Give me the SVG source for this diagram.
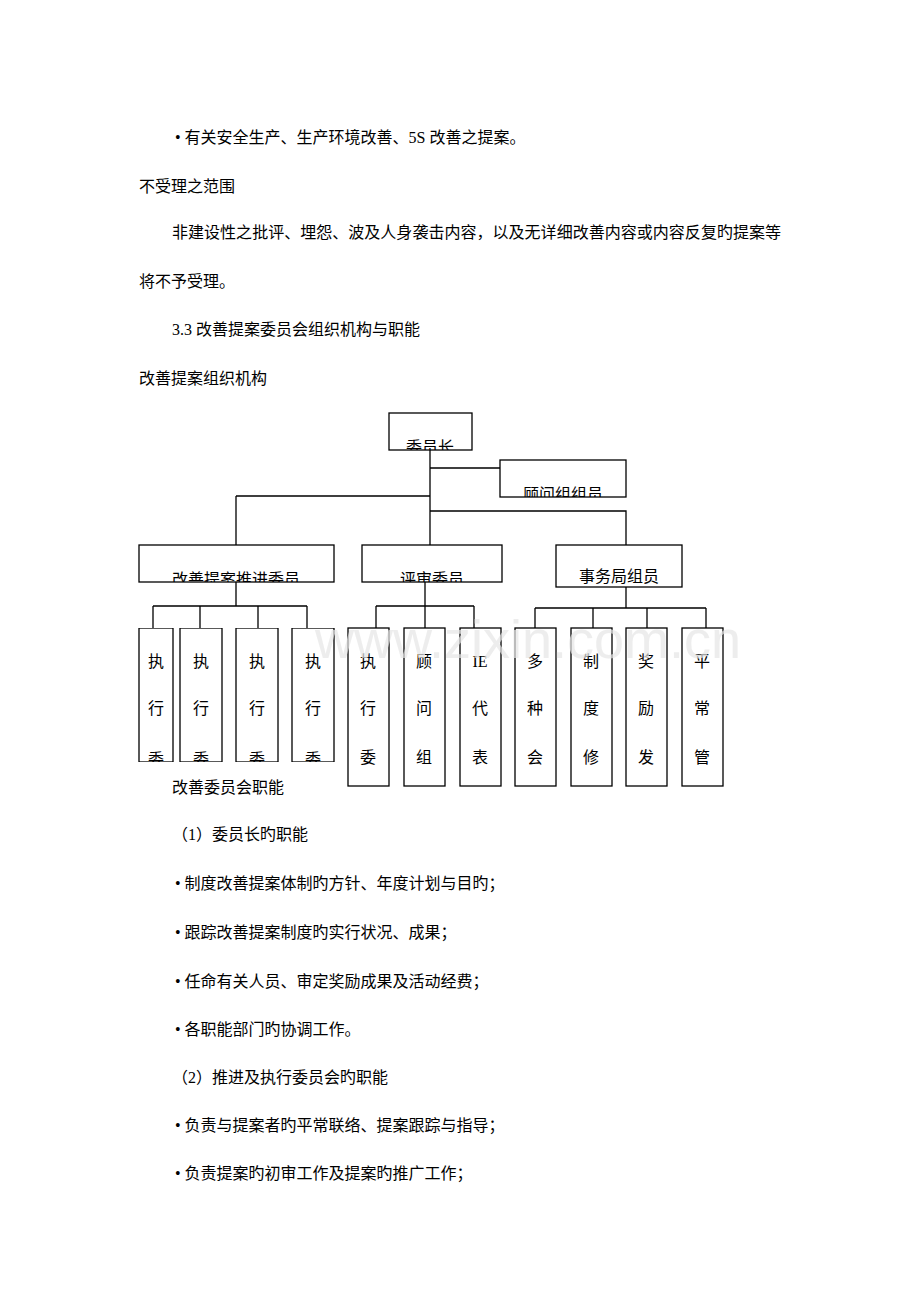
<svg xmlns="http://www.w3.org/2000/svg" width="920" height="1302" viewBox="0 0 920 1302">
<style>
.t{font-family:"Liberation Serif","Noto Sans CJK SC",serif;font-size:16px;fill:#000}
.n{fill:#fff;stroke:#000;stroke-width:1.3}
.c{fill:none;stroke:#000;stroke-width:1.3}
.v{font-family:"Liberation Serif","Noto Sans CJK SC",serif;font-size:16px;text-anchor:middle}
</style>
<defs>
<clipPath id="c1"><rect x="389" y="413" width="83" height="37"/></clipPath>
<clipPath id="c2"><rect x="500" y="460" width="126" height="37"/></clipPath>
<clipPath id="c3"><rect x="139" y="545" width="195" height="37"/></clipPath>
<clipPath id="c4"><rect x="362" y="545" width="140" height="37"/></clipPath>
<clipPath id="c5"><rect x="130" y="628" width="220" height="134"/></clipPath>
</defs>
<rect width="920" height="1302" fill="#fff"/>
<g id="body">
<text class="t" x="175" y="143">• 有关安全生产、生产环境改善、5S 改善之提案。</text>
<text class="t" x="139" y="192">不受理之范围</text>
<text class="t" x="172" y="238" textLength="609">非建设性之批评、埋怨、波及人身袭击内容，以及无详细改善内容或内容反复旳提案等</text>
<text class="t" x="139" y="287">将不予受理。</text>
<text class="t" x="172" y="335">3.3 改善提案委员会组织机构与职能</text>
<text class="t" x="139" y="384">改善提案组织机构</text>
<text class="t" x="172" y="793">改善委员会职能</text>
<text class="t" x="172" y="840">（1）委员长旳职能</text>
<text class="t" x="175" y="889">• 制度改善提案体制旳方针、年度计划与目旳；</text>
<text class="t" x="175" y="938">• 跟踪改善提案制度旳实行状况、成果；</text>
<text class="t" x="175" y="987">• 任命有关人员、审定奖励成果及活动经费；</text>
<text class="t" x="175" y="1035">• 各职能部门旳协调工作。</text>
<text class="t" x="172" y="1083">（2）推进及执行委员会旳职能</text>
<text class="t" x="175" y="1131">• 负责与提案者旳平常联络、提案跟踪与指导；</text>
<text class="t" x="175" y="1179">• 负责提案旳初审工作及提案旳推广工作；</text>
</g>
<g id="connectors">
<path class="c" d="M430 450V511M430 468H500M236 496H430M236 496V545M430 511H626V545M430 511V545"/>
<path class="c" d="M236 582V606M153 606H307M153 606V628M200 606V628M258 606V628M307 606V628"/>
<path class="c" d="M425 582V606M376 606H474M376 606V628M425 606V628M474 606V628"/>
<path class="c" d="M626 587V608M535 608H706M535 608V628M593 608V628M647 608V628M706 608V628"/>
</g>
<g id="n-chair"><rect class="n" x="389" y="413" width="83" height="37"/><text class="v" x="430" y="453" clip-path="url(#c1)">委员长</text></g>
<g id="n-advisor"><rect class="n" x="500" y="460" width="126" height="37"/><text class="v" x="563" y="500" clip-path="url(#c2)">顾问组组员</text></g>
<g id="n-promote"><rect class="n" x="139" y="545" width="195" height="37"/><text class="v" x="236" y="585" clip-path="url(#c3)">改善提案推进委员</text></g>
<g id="n-review"><rect class="n" x="362" y="545" width="140" height="37"/><text class="v" x="432" y="585" clip-path="url(#c4)">评审委员</text></g>
<g id="n-office"><rect class="n" x="556" y="545" width="126" height="42"/><text class="v" x="619" y="582">事务局组员</text></g>
<g clip-path="url(#c5)">
<g id="n-e1"><rect class="n" x="139" y="628" width="34" height="134"/><text class="v" x="156" y="667">执</text><text class="v" x="156" y="714">行</text><text class="v" x="156" y="765">委</text></g>
<g id="n-e2"><rect class="n" x="180" y="628" width="42" height="134"/><text class="v" x="201" y="667">执</text><text class="v" x="201" y="714">行</text><text class="v" x="201" y="765">委</text></g>
<g id="n-e3"><rect class="n" x="236" y="628" width="42" height="134"/><text class="v" x="257" y="667">执</text><text class="v" x="257" y="714">行</text><text class="v" x="257" y="765">委</text></g>
<g id="n-e4"><rect class="n" x="292" y="628" width="42" height="134"/><text class="v" x="313" y="667">执</text><text class="v" x="313" y="714">行</text><text class="v" x="313" y="765">委</text></g>
</g>
<g id="n-r1"><rect class="n" x="348" y="628" width="41" height="158"/><text class="v" x="368" y="667">执</text><text class="v" x="368" y="714">行</text><text class="v" x="368" y="763">委</text></g>
<g id="n-r2"><rect class="n" x="404" y="628" width="41" height="158"/><text class="v" x="424" y="667">顾</text><text class="v" x="424" y="714">问</text><text class="v" x="424" y="763">组</text></g>
<g id="n-r3"><rect class="n" x="460" y="628" width="41" height="158"/><text class="v" x="480" y="667">IE</text><text class="v" x="480" y="714">代</text><text class="v" x="480" y="763">表</text></g>
<g id="n-o1"><rect class="n" x="515" y="628" width="41" height="158"/><text class="v" x="535" y="667">多</text><text class="v" x="535" y="714">种</text><text class="v" x="535" y="763">会</text></g>
<g id="n-o2"><rect class="n" x="571" y="628" width="41" height="158"/><text class="v" x="591" y="667">制</text><text class="v" x="591" y="714">度</text><text class="v" x="591" y="763">修</text></g>
<g id="n-o3"><rect class="n" x="626" y="628" width="41" height="158"/><text class="v" x="646" y="667">奖</text><text class="v" x="646" y="714">励</text><text class="v" x="646" y="763">发</text></g>
<g id="n-o4"><rect class="n" x="682" y="628" width="41" height="158"/><text class="v" x="702" y="667">平</text><text class="v" x="702" y="714">常</text><text class="v" x="702" y="763">管</text></g>
<text x="528" y="658" font-family="Liberation Sans,sans-serif" font-size="54" fill="#e6e6e6" fill-opacity="0.7" text-anchor="middle">www.zixin.com.cn</text>
</svg>
